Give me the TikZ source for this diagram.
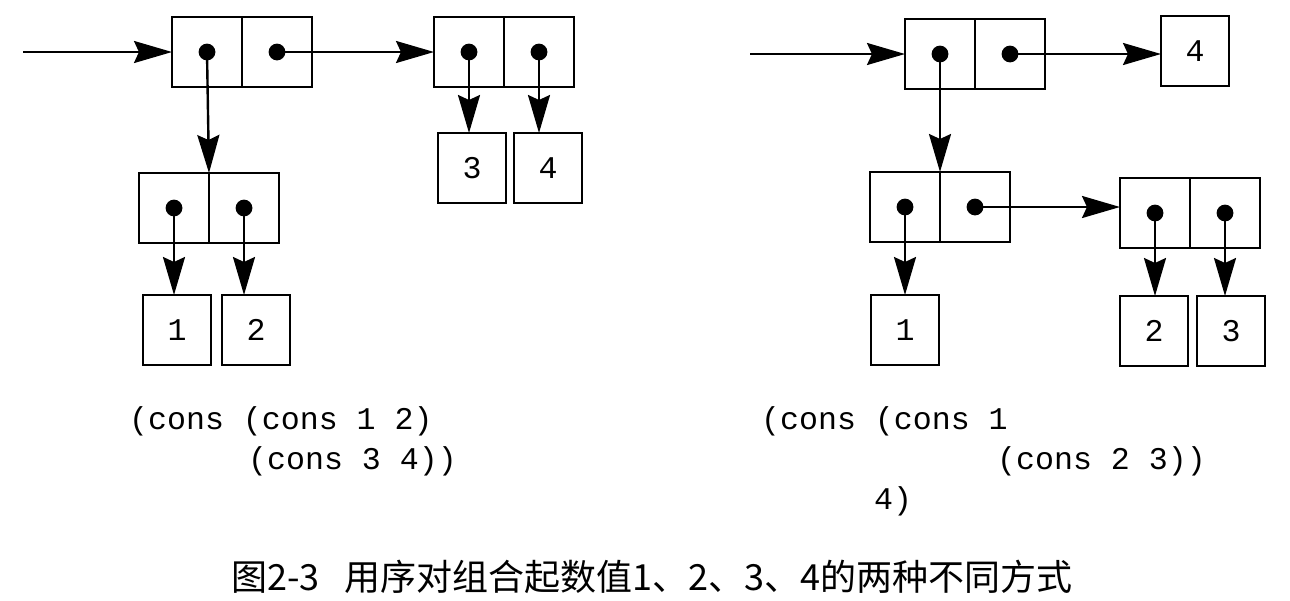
\documentclass[tikz,border=0pt]{standalone}
\usepackage{fontspec}
\setmonofont{Liberation Mono}
\newfontfamily\cjk{Noto Sans CJK SC}
\usetikzlibrary{arrows.meta,positioning}

\begin{document}
\begin{tikzpicture}[x=0.5pt,y=-0.5pt,->,>={Stealth[length=19pt,width=11pt,inset=2.5pt]},
                    line width=1.2pt]

  \tikzstyle{every node}=[font=\ttfamily\fontsize{15.8}{20}\selectfont]
  \tikzstyle{cell}=[rectangle,draw,-,minimum width=35pt,minimum height=35pt,
                    inner sep=0pt,outer sep=0pt]
  \tikzstyle{atom}=[cell,minimum width=34pt]
  \tikzstyle{code}=[anchor=base west,inner sep=0pt]

  \useasboundingbox (0,0) rectangle (1290,600);

  % (cons (cons 1 2) (cons 3 4))
  \coordinate (inL) at (23,52);
  \node[cell] (A1) at (207,52) {};
  \node[cell] (A2) [right=0pt of A1] {};
  \node[cell] (B1) at (469,52) {};
  \node[cell] (B2) [right=0pt of B1] {};
  \node[cell] (C1) at (174,208) {};
  \node[cell] (C2) [right=0pt of C1] {};
  \node[atom] (N1) at (177,330) {1};
  \node[atom] (N2) at (256,330) {2};
  \node[atom] (N3) at (472,168) {3};
  \node[atom] (N4) at (548,168) {4};

  % (cons (cons 1 (cons 2 3)) 4)
  \coordinate (inR) at (750,54);
  \node[cell] (D1) at (940,54) {};
  \node[cell] (D2) [right=0pt of D1] {};
  \node[atom] (M4) at (1195,51) {4};
  \node[cell] (E1) at (905,207) {};
  \node[cell] (E2) [right=0pt of E1] {};
  \node[cell] (F1) at (1155,213) {};
  \node[cell] (F2) [right=0pt of F1] {};
  \node[atom] (M1) at (905,330) {1};
  \node[atom] (M2) at (1154,331) {2};
  \node[atom] (M3) at (1231,331) {3};

  \foreach \c in {A1,A2,B1,B2,C1,C2,D1,D2,E1,E2,F1,F2}
    \fill[-] (\c.center) circle (4.2pt);

  \draw (inL) -- (A1.west);
  \draw (A2.center) -- (B1.west);
  \draw (A1.center) -- (C1.north east);
  \draw (B1.center) -- (B1.center |- N3.north);
  \draw (B2.center) -- (B2.center |- N4.north);
  \draw (C1.center) -- (C1.center |- N1.north);
  \draw (C2.center) -- (C2.center |- N2.north);

  \draw (inR) -- (D1.west);
  \draw (D2.center) -- (D2.center -| M4.west);
  \draw (D1.center) -- (E1.north east);
  \draw (E1.center) -- (E1.center |- M1.north);
  \draw (E2.center) -- (E2.center -| F1.west);
  \draw (F1.center) -- (F1.center |- M2.north);
  \draw (F2.center) -- (F2.center |- M3.north);

  \node[code] (L1) at (128,429) {(cons (cons 1 2)};
  \node[code] (L2) at (247,469) {(cons 3 4))};
  \node[code] (R1) at (760,429) {(cons (cons 1};
  \node[code] (R2) at (996,469) {(cons 2 3))};
  \node[code] (R3) at (873,509) {4)};

  \node[font=\cjk\fontsize{18}{20}\selectfont] (cap) at (652,577)
    {图2-3\hspace{0.7em}用序对组合起数值1、2、3、4的两种不同方式};
\end{tikzpicture}
\end{document}
